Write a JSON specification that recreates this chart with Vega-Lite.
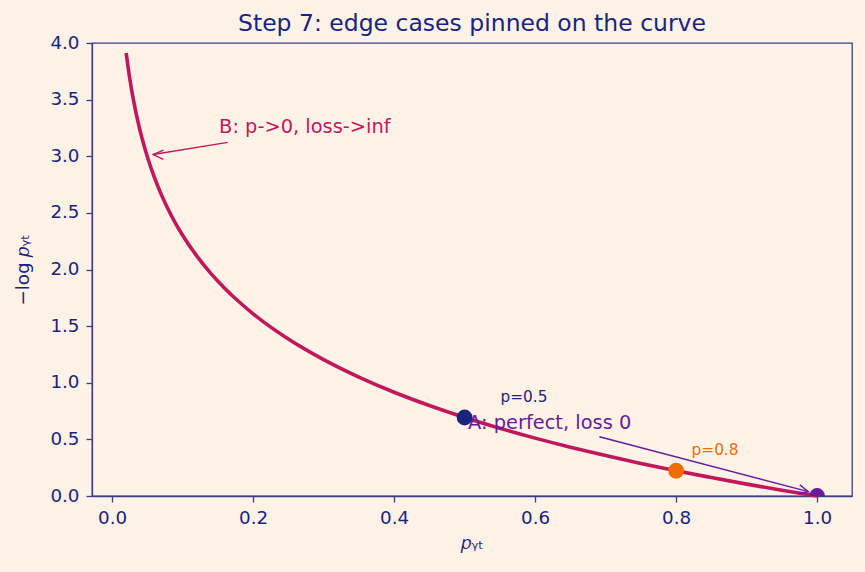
{
  "$schema": "https://vega.github.io/schema/vega-lite/v6.json",
  "width": 760,
  "height": 453,
  "autosize": {"type": "none"},
  "padding": {"left": 92, "top": 43, "right": 13, "bottom": 76},
  "background": "#FFF3E8",
  "title": {
    "text": "Step 7: edge cases pinned on the curve",
    "font": "DejaVu Sans",
    "fontSize": 23.5,
    "fontWeight": "normal",
    "color": "#1A237E",
    "anchor": "middle",
    "offset": -2
  },
  "config": {
    "view": {"stroke": "#3D3F86", "strokeWidth": 1.3, "fill": "#FFF3E8"},
    "axis": {
      "grid": false,
      "domainColor": "#3D3F86",
      "domainWidth": 1.3,
      "tickColor": "#3D3F86",
      "tickWidth": 1.3,
      "tickSize": 6,
      "labelColor": "#1A237E",
      "labelFont": "DejaVu Sans",
      "labelFontSize": 18.3,
      "titleColor": "#1A237E",
      "titleFont": "DejaVu Sans",
      "titleFontSize": 18.3,
      "titleFontWeight": "normal"
    }
  },
  "datasets": {
    "curve": [
      {"p": 0.02, "loss": 3.912}, {"p": 0.025, "loss": 3.689}, {"p": 0.03, "loss": 3.507},
      {"p": 0.035, "loss": 3.352}, {"p": 0.04, "loss": 3.219}, {"p": 0.045, "loss": 3.101},
      {"p": 0.05, "loss": 2.996}, {"p": 0.06, "loss": 2.813}, {"p": 0.07, "loss": 2.659},
      {"p": 0.08, "loss": 2.526}, {"p": 0.09, "loss": 2.408}, {"p": 0.1, "loss": 2.303},
      {"p": 0.12, "loss": 2.12}, {"p": 0.14, "loss": 1.966}, {"p": 0.16, "loss": 1.833},
      {"p": 0.18, "loss": 1.715}, {"p": 0.2, "loss": 1.609}, {"p": 0.25, "loss": 1.386},
      {"p": 0.3, "loss": 1.204}, {"p": 0.35, "loss": 1.05}, {"p": 0.4, "loss": 0.916},
      {"p": 0.45, "loss": 0.799}, {"p": 0.5, "loss": 0.693}, {"p": 0.55, "loss": 0.598},
      {"p": 0.6, "loss": 0.511}, {"p": 0.65, "loss": 0.431}, {"p": 0.7, "loss": 0.357},
      {"p": 0.75, "loss": 0.288}, {"p": 0.8, "loss": 0.223}, {"p": 0.85, "loss": 0.163},
      {"p": 0.9, "loss": 0.105}, {"p": 0.95, "loss": 0.051}, {"p": 1.0, "loss": 0.0}
    ],
    "marked": [
      {"name": "half", "p": 0.5, "loss": 0.693},
      {"name": "eighty", "p": 0.8, "loss": 0.223},
      {"name": "perfect", "p": 1.0, "loss": 0.0}
    ],
    "arrows": [
      {"name": "B", "x0": 0.164, "y0": 3.123, "x1": 0.0582, "y1": 3.015},
      {"name": "A", "x0": 0.6912, "y0": 0.5236, "x1": 0.9877, "y1": 0.038}
    ],
    "heads": [
      {"name": "B", "k": 0, "x": 0.0728, "y": 3.055},
      {"name": "B", "k": 1, "x": 0.0582, "y": 3.015},
      {"name": "B", "k": 2, "x": 0.0728, "y": 2.973},
      {"name": "A", "k": 0, "x": 0.9723, "y": 0.022},
      {"name": "A", "k": 1, "x": 0.9877, "y": 0.038},
      {"name": "A", "k": 2, "x": 0.9755, "y": 0.098}
    ],
    "notes": [
      {"name": "B", "x": 0.1518, "y": 3.203, "label": "B: p->0, loss->inf", "size": 19.4},
      {"name": "half", "x": 0.551, "y": 0.833, "label": "p=0.5", "size": 15.3},
      {"name": "eighty", "x": 0.822, "y": 0.362, "label": "p=0.8", "size": 15.3},
      {"name": "A", "x": 0.505, "y": 0.589, "label": "A: perfect, loss 0", "size": 19.4}
    ]
  },
  "encoding": {
    "x": {
      "type": "quantitative",
      "scale": {"domain": [-0.0285, 1.0495], "nice": false, "zero": false},
      "axis": {"values": [0, 0.2, 0.4, 0.6, 0.8, 1.0], "format": ".1f", "labelPadding": 7, "title": "𝑝ᵧₜ", "titlePadding": 8}
    },
    "y": {
      "type": "quantitative",
      "scale": {"domain": [0, 4], "nice": false},
      "axis": {"values": [0, 0.5, 1, 1.5, 2, 2.5, 3, 3.5, 4], "format": ".1f", "labelPadding": 7, "title": "−log 𝑝ᵧₜ", "titlePadding": 17}
    }
  },
  "layer": [
    {
      "data": {"name": "curve"},
      "mark": {"type": "line", "color": "#C2185B", "strokeWidth": 3.6, "interpolate": "monotone"},
      "encoding": {"x": {"field": "p"}, "y": {"field": "loss"}}
    },
    {
      "data": {"name": "marked"},
      "mark": {"type": "circle", "size": 250, "opacity": 1, "clip": true},
      "encoding": {
        "x": {"field": "p"},
        "y": {"field": "loss"},
        "color": {
          "field": "name",
          "type": "nominal",
          "scale": {"domain": ["half", "eighty", "perfect", "A", "B"], "range": ["#1A237E", "#EF6C00", "#6A1B9A", "#6A1B9A", "#C2185B"]},
          "legend": null
        }
      }
    },
    {
      "data": {"name": "arrows"},
      "mark": {"type": "rule", "strokeWidth": 1.4},
      "encoding": {
        "x": {"field": "x0"},
        "y": {"field": "y0"},
        "x2": {"field": "x1"},
        "y2": {"field": "y1"},
        "color": {"field": "name", "type": "nominal", "legend": null}
      }
    },
    {
      "data": {"name": "heads"},
      "mark": {"type": "line", "strokeWidth": 1.4},
      "encoding": {
        "x": {"field": "x"},
        "y": {"field": "y"},
        "order": {"field": "k"},
        "color": {"field": "name", "type": "nominal", "legend": null}
      }
    },
    {
      "data": {"name": "notes"},
      "mark": {"type": "text", "align": "left", "baseline": "alphabetic", "font": "DejaVu Sans"},
      "encoding": {
        "x": {"field": "x"},
        "y": {"field": "y"},
        "text": {"field": "label"},
        "size": {"field": "size", "type": "quantitative", "scale": null},
        "color": {"field": "name", "type": "nominal", "legend": null}
      }
    }
  ]
}
